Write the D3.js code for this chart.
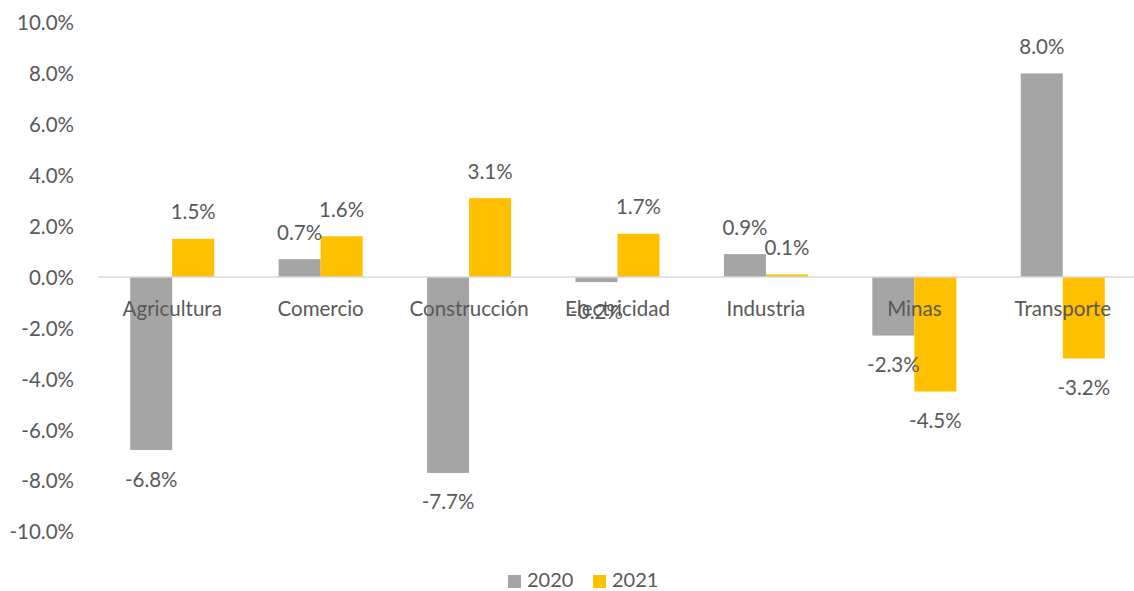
<!DOCTYPE html>
<html>
<head>
<meta charset="utf-8">
<script src="https://cdn.jsdelivr.net/npm/d3@7"></script>
<style>
html,body{margin:0;padding:0;background:#fff;}
svg{display:block;}
text{font-family:"Lato","Open Sans",sans-serif;fill:#595959;}
</style>
</head>
<body>
<svg id="chart" width="1134" height="591"></svg>
<script>
const categories = ["Agricultura","Comercio","Construcción","Electricidad","Industria","Minas","Transporte"];
const seriesNames = ["2020","2021"];
const values2020 = [-6.8, 0.7, -7.7, -0.2, 0.9, -2.3, 8.0];
const values2021 = [1.5, 1.6, 3.1, 1.7, 0.1, -4.5, -3.2];
const yTicks = [-10,-8,-6,-4,-2,0,2,4,6,8,10];
const colors = ["#A5A5A5","#FFC000"];

const FS = "20.5px";
const FF = "Lato, 'Open Sans', sans-serif";
const svg = d3.select("#chart");
const x = d3.scaleBand().domain(categories).range([98,1137]).paddingInner(0.434).paddingOuter(0.217);
const xs = d3.scaleBand().domain(seriesNames).range([0, x.bandwidth()]);
const y = d3.scaleLinear().domain([-10,10]).range([531.5,22.5]);
const fmt = v => v.toFixed(1) + "%";

// y axis labels
const yAxis = d3.axisLeft(y).tickValues(yTicks).tickFormat(fmt).tickSize(0).tickPadding(0);
const ga = svg.append("g").attr("transform","translate(74,0)").call(yAxis);
ga.select(".domain").remove();
ga.selectAll("text").attr("dy","0.36em").style("font-size",FS).style("font-family",FF).attr("fill","#595959");

const data = categories.map((c,i)=>({cat:c, vals:[{s:"2020",v:values2020[i]},{s:"2021",v:values2021[i]}]}));

const groups = svg.append("g").selectAll("g").data(data).join("g")
  .attr("transform", d=>`translate(${x(d.cat)},0)`);

groups.selectAll("rect").data(d=>d.vals).join("rect")
  .attr("x", d=>xs(d.s))
  .attr("width", xs.bandwidth())
  .attr("y", d=>y(Math.max(0,d.v)))
  .attr("height", d=>Math.abs(y(d.v)-y(0)))
  .attr("fill", (d,i)=>colors[i]);

// zero line
svg.append("line").attr("x1",98).attr("x2",1134).attr("y1",y(0)).attr("y2",y(0))
  .attr("stroke","#D9D9D9").attr("stroke-width",1.5);

// category labels
const xAxis = d3.axisBottom(x).tickSize(0).tickPadding(0);
const gx = svg.append("g").attr("transform",`translate(0,${y(0)})`).call(xAxis);
gx.select(".domain").remove();
gx.selectAll("text").attr("dy",null).attr("y",38.5).style("font-size",FS).style("font-family",FF).attr("fill","#595959");

// data labels
groups.selectAll("text.lbl").data(d=>d.vals).join("text")
  .attr("class","lbl")
  .attr("x", d=>xs(d.s)+xs.bandwidth()/2)
  .attr("y", d=> d.v>=0 ? y(d.v)-19.5 : y(d.v)+36.5)
  .attr("text-anchor","middle")
  .style("font-size",FS)
  .text(d=>fmt(d.v));

// legend
const leg = svg.append("g").attr("transform","translate(508,575)");
seriesNames.forEach((s,i)=>{
  const g = leg.append("g").attr("transform",`translate(${i*85},0)`);
  g.append("rect").attr("x",0).attr("y",0).attr("width",13).attr("height",13).attr("fill",colors[i]);
  g.append("text").attr("x",19).attr("y",12).style("font-size","20px").text(s);
});
</script>
</body>
</html>
